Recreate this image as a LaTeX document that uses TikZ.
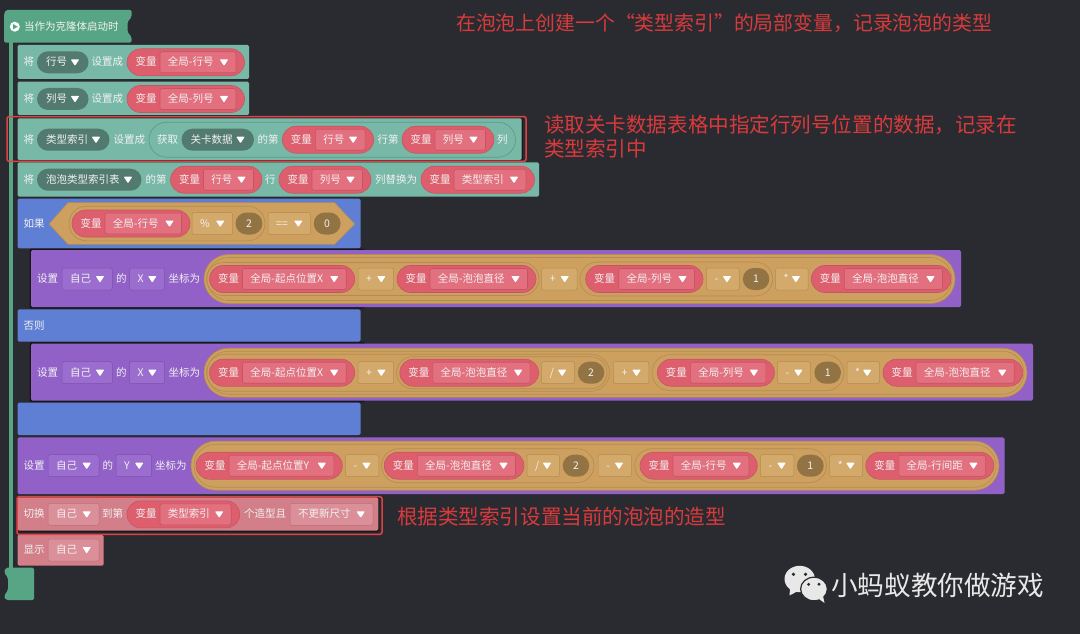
\documentclass[tikz,border=0pt]{standalone}
\usepackage{fontspec}
\setmainfont{Noto Sans CJK SC}
\definecolor{bgc}{HTML}{2A2B30}
\definecolor{hatc}{HTML}{57A585}
\definecolor{tealc}{HTML}{78B8A6}
\definecolor{tealdk}{HTML}{527A6E}
\definecolor{tealln}{HTML}{5F9A8A}
\definecolor{redc}{HTML}{DD5F6E}
\definecolor{redln}{HTML}{C65465}
\definecolor{redbox}{HTML}{E2707F}
\definecolor{bluec}{HTML}{5F7FD4}
\definecolor{purc}{HTML}{9161C8}
\definecolor{purbox}{HTML}{9A6DCE}
\definecolor{purln}{HTML}{7E52AE}
\definecolor{tanc}{HTML}{CDA05F}
\definecolor{tanln}{HTML}{B48B50}
\definecolor{tanbox}{HTML}{D4A96C}
\definecolor{numc}{HTML}{927343}
\definecolor{pinkc}{HTML}{D27F8A}
\definecolor{pinkbox}{HTML}{DA8F99}
\definecolor{pinkln}{HTML}{BB6F7A}
\definecolor{txtc}{HTML}{F2F2F2}
\definecolor{markc}{HTML}{E8E8E8}
\definecolor{notec}{HTML}{D93A3C}
\definecolor{framec}{HTML}{E04143}
\definecolor{edgec}{HTML}{17181B}
\newcounter{nd}
\tikzset{
  lab/.style={inner sep=0pt,text=txtc,text height=8.5pt,text depth=1.5pt,font=\fontsize{10.5}{12}\selectfont},
  note/.style={inner sep=0pt,anchor=west,text=notec,font=\fontsize{20.55}{24}\selectfont},
  block/.style={rounded corners=1.5pt},
  ringln/.style={draw=tanln,line width=.6pt},
  frame/.style={draw=framec,line width=1.5pt,rounded corners=2pt},
  tealdd/.style={fill=tealdk},
  purdd/.style={fill=purbox,draw=purln,line width=.5pt},
  tandd/.style={fill=tanbox,draw=tanln,line width=.5pt},
  pinkdd/.style={fill=pinkbox,draw=pinkln,line width=.5pt},
}
\newcommand\lbW[3]{\stepcounter{nd}\node[lab,anchor=west,name=t\arabic{nd}] at (#1,#2) {#3};}
\newcommand\lbC[3]{\stepcounter{nd}\node[lab,anchor=center,name=t\arabic{nd}] at (#1,#2) {#3};}
\newcommand\arrowTip[2]{\fill[white,rounded corners=.8pt] (#1-4.3,#2-3) -- (#1+4.3,#2-3) -- (#1,#2+3.6) -- cycle;}
% rectangular dropdown: x1 x2 yc style text
\newcommand\ddBox[5]{\draw[#4,rounded corners=2pt] (#1,#3-11) rectangle (#2,#3+11);\lbW{#1+8}{#3}{#5}\arrowTip{#2-12.3}{#3}}
% teal capsule dropdown
\newcommand\ddPill[4]{\fill[tealdd,rounded corners=11pt] (#1,#3-11) rectangle (#2,#3+11);\lbW{#1+8.8}{#3}{#4}\arrowTip{#2-13.5}{#3}}
% variable capsule: x1 x2 yc text
\newcommand\varPill[4]{\draw[fill=redc,draw=redln,line width=.6pt,rounded corners=13.5pt] (#1,#3-13.5) rectangle (#2,#3+13.5);\lbW{#1+8.3}{#3}{变量}\draw[fill=redbox,draw=redln,line width=.6pt,rounded corners=2pt] (#1+33,#3-10.5) rectangle (#2-8.5,#3+10.5);\lbW{#1+40.7}{#3}{#4}\arrowTip{#2-20.5}{#3}}
% number disc
\newcommand\numDisc[4]{\fill[numc,rounded corners=11pt] (#1,#3-11) rectangle (#2,#3+11);\lbC{#1/2+#2/2}{#3}{#4}}
% ring: x1 x2 yc half
\newcommand\ringCap[4]{\draw[ringln,rounded corners=#4pt] (#1,#3-#4) rectangle (#2,#3+#4);}
\newcommand\tanCap[4]{\draw[fill=tanc,draw=tanln,line width=.6pt,rounded corners=#4pt] (#1,#3-#4) rectangle (#2,#3+#4);}
\begin{document}
\begin{tikzpicture}[x=1pt,y=-1pt]
\useasboundingbox (0,0) rectangle (1080,634);
\fill[bgc] (0,0) rectangle (1080,634);

% spine, hat, cap
\fill[hatc] (9.3,40) rectangle (12.7,570);
\fill[hatc,rounded corners=1.5pt] (6,10) -- (131.5,10) -- (131.5,17) -- (127.5,22) -- (127.5,32) -- (131.5,37) -- (131.5,42.7) -- (4,42.7) -- (4,14) -- cycle;
\fill[white] (14.8,26.7) circle (5);
\fill[hatc] (13,24) -- (17.8,26.7) -- (13,29.4) -- cycle;
\lbW{23.8}{26.7}{当作为克隆体启动时}
\fill[hatc,rounded corners=1.5pt] (6,567.7) -- (34,567.7) -- (34,600) -- (6,600) -- (4,596) -- (8,590) -- (8,578) -- (4,572) -- cycle;

% row 1
\fill[tealc,block] (17.5,45) rectangle (249,79);
\lbW{23.5}{62.3}{将}
\ddPill{37}{88.5}{62.3}{行号}
\lbW{91.5}{62.3}{设置成}
\varPill{127}{244.5}{62.3}{全局-行号}

% row 2
\fill[tealc,block] (17.5,81.7) rectangle (249,115);
\lbW{23.5}{99}{将}
\ddPill{37}{88.5}{99}{列号}
\lbW{91.5}{99}{设置成}
\varPill{127}{244.5}{99}{全局-列号}

% row 3
\fill[tealc,block] (17.5,118.3) rectangle (521.7,160);
\draw[edgec,line width=.8pt] (521.9,118.3) -- (521.9,160);
\lbW{23.5}{139.7}{将}
\ddPill{37}{109.5}{139.7}{类型索引}
\lbW{113.3}{139.7}{设置成}
\draw[fill=tealc,draw=tealln,line width=.7pt,rounded corners=17.5pt] (149,122.2) rectangle (515.5,157.2);
\lbW{157}{139.7}{获取}
\ddPill{181.5}{254}{139.7}{关卡数据}
\lbW{257.5}{139.7}{的第}
\varPill{282.4}{373.6}{139.7}{行号}
\lbW{377.3}{139.7}{行第}
\varPill{402}{494}{139.7}{列号}
\lbW{497}{139.7}{列}

% row 4
\fill[tealc,block] (17.5,162.3) rectangle (539,196.7);
\lbW{23.5}{179.7}{将}
\ddPill{37}{141.5}{179.7}{泡泡类型索引表}
\lbW{145.5}{179.7}{的第}
\varPill{170.5}{262}{179.7}{行号}
\lbW{265}{179.7}{行}
\varPill{279}{371}{179.7}{列号}
\lbW{374.8}{179.7}{列替换为}
\varPill{421}{534.5}{179.7}{类型索引}

% if / else
\fill[bluec,block] (17.5,198.7) rectangle (360.5,248.3);
\lbW{23.5}{224}{如果}
\draw[fill=tanc,draw=tanln,line width=.5pt] (49,224) -- (68,202.7) -- (334.7,202.7) -- (354.7,224) -- (334.7,244.3) -- (68,244.3) -- cycle;
\ringCap{69}{265}{223.5}{17.3}
\varPill{72}{190}{223.5}{全局-行号}
\ddBox{192}{232.5}{223.5}{tandd}{\%}
\numDisc{235.5}{262.4}{223.5}{2}
\ddBox{268}{310.6}{223.5}{tandd}{==}
\numDisc{313.7}{340.6}{223.5}{0}

% set X (then)
\fill[edgec,rounded corners=1.5pt] (29.5,248.6) rectangle (365,308.7);
\fill[purc,block] (31,250.2) rectangle (961,307);
\lbW{37}{279}{设置}
\ddBox{62}{112.3}{279}{purdd}{自己}
\lbW{116}{279}{的}
\ddBox{129.5}{164.6}{279}{purdd}{X}
\lbW{168.5}{279}{坐标为}
\tanCap{204}{955}{279}{24.5}
\ringCap{207}{952}{279}{21.5}
\ringCap{206.5}{539}{279}{16.5}
\ringCap{580}{772.7}{279}{17}
\varPill{209.5}{354.7}{279}{全局-起点位置X}
\ddBox{358}{393.6}{279}{tandd}{+}
\varPill{397}{536}{279}{全局-泡泡直径}
\ddBox{541.7}{577}{279}{tandd}{+}
\varPill{585.7}{703}{279}{全局-列号}
\ddBox{706.3}{739.3}{279}{tandd}{-}
\numDisc{742.8}{769.3}{279}{1}
\ddBox{775.5}{808.2}{279}{tandd}{*}
\varPill{811.3}{951}{279}{全局-泡泡直径}

% else
\fill[bluec,block] (17.5,309.3) rectangle (360.5,341.7);
\lbW{23.5}{326}{否则}

% set X (else)
\fill[edgec,rounded corners=1.5pt] (29.5,342) rectangle (365,402.3);
\fill[purc,block] (31,343.6) rectangle (1033,400.6);
\lbW{37}{372.7}{设置}
\ddBox{62}{112.3}{372.7}{purdd}{自己}
\lbW{116}{372.7}{的}
\ddBox{129.5}{164.6}{372.7}{purdd}{X}
\lbW{168.5}{372.7}{坐标为}
\tanCap{204}{1027}{372.7}{24.5}
\ringCap{207}{1024}{372.7}{21.5}
\ringCap{206.5}{609.5}{372.7}{18.5}
\ringCap{396.5}{607}{372.7}{16}
\ringCap{651.9}{844}{372.7}{18}
\varPill{209.5}{354.7}{372.7}{全局-起点位置X}
\ddBox{358}{393.6}{372.7}{tandd}{+}
\varPill{399.8}{538.6}{372.7}{全局-泡泡直径}
\ddBox{541.7}{574.4}{372.7}{tandd}{/}
\numDisc{577.8}{604.3}{372.7}{2}
\ddBox{613.3}{648.8}{372.7}{tandd}{+}
\varPill{657.4}{774.4}{372.7}{全局-列号}
\ddBox{777.5}{810.6}{372.7}{tandd}{-}
\numDisc{814.4}{841}{372.7}{1}
\ddBox{847}{879.5}{372.7}{tandd}{*}
\varPill{883}{1022.7}{372.7}{全局-泡泡直径}

% end of if
\fill[bluec,block] (17.5,402.7) rectangle (360.5,435);

% set Y
\fill[purc,block] (17.5,437.3) rectangle (1004.5,494);
\lbW{23.5}{465.7}{设置}
\ddBox{48}{99}{465.7}{purdd}{自己}
\lbW{102.5}{465.7}{的}
\ddBox{116}{151.5}{465.7}{purdd}{Y}
\lbW{155}{465.7}{坐标为}
\tanCap{191}{999}{465.7}{24.5}
\ringCap{194}{996}{465.7}{21.5}
\ringCap{381.5}{594}{465.7}{17}
\ringCap{634.7}{826.5}{465.7}{17}
\varPill{196}{342.3}{465.7}{全局-起点位置Y}
\ddBox{345.4}{378.8}{465.7}{tandd}{-}
\varPill{384.3}{524}{465.7}{全局-泡泡直径}
\ddBox{527}{559.3}{465.7}{tandd}{/}
\numDisc{562.7}{589.2}{465.7}{2}
\ddBox{598.2}{631.3}{465.7}{tandd}{-}
\varPill{640}{757.3}{465.7}{全局-行号}
\ddBox{760.4}{793.8}{465.7}{tandd}{-}
\numDisc{796.9}{823.7}{465.7}{1}
\ddBox{829.6}{862.7}{465.7}{tandd}{*}
\varPill{865.8}{993.9}{465.7}{全局-行间距}

% switch costume
\fill[edgec,block] (17.5,497.3) rectangle (379.3,532);
\fill[pinkc,block] (17.5,497.3) rectangle (378.3,530.6);
\lbW{23.5}{514.3}{切换}
\ddBox{48}{99}{514.3}{pinkdd}{自己}
\lbW{102}{514.3}{到第}
\varPill{127}{239.7}{514.3}{类型索引}
\lbW{244}{514.3}{个造型且}
\ddBox{290}{373}{514.3}{pinkdd}{不更新尺寸}

% show
\fill[pinkc,block] (17.5,534.7) rectangle (103.7,565.7);
\lbW{23.5}{550}{显示}
\ddBox{48}{99}{550}{pinkdd}{自己}

% red frames
\draw[frame] (7,116.6) rectangle (526,161.3);
\draw[frame] (17,496.7) rectangle (382,534.3);

% annotations
\node[note,name=noteA,font=\fontsize{19.85}{24}\selectfont] at (456,23.5) {在泡泡上创建一个“类型索引”的局部变量，记录泡泡的类型};
\node[note,name=noteB] at (544,125) {读取关卡数据表格中指定行列号位置的数据，记录在};
\node[note,name=noteC] at (544,149) {类型索引中};
\node[note,name=noteD] at (397,517) {根据类型索引设置当前的泡泡的造型};

% watermark
\fill[markc] (799.7,579) ellipse (15.2 and 13.2);
\fill[markc] (790,589) -- (789.5,595.5) -- (798,591) -- cycle;
\fill[bgc] (793.4,574.3) circle (1.8) (805.5,574.3) circle (1.8);
\draw[fill=markc,draw=bgc,line width=1.2pt] (814,589) ellipse (13.4 and 11.8);
\fill[markc] (819,599) -- (824.5,603) -- (823,596) -- cycle;
\fill[bgc] (808.6,584.3) circle (1.6) (819,584.3) circle (1.6);
\node[inner sep=0pt,anchor=west,text=markc,name=mark,font=\fontsize{26.6}{30}\selectfont] at (831,585.5) {小蚂蚁教你做游戏};
\end{tikzpicture}
\end{document}
